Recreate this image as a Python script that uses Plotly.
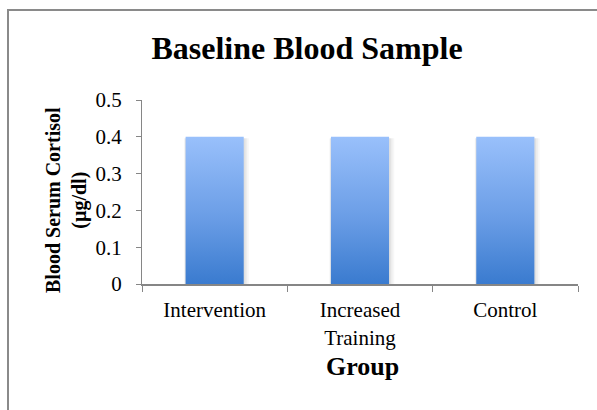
import plotly.graph_objects as go

# Chart data
groups = ["Intervention", "Increased<br>Training", "Control"]
cortisol = [0.4, 0.4, 0.4]
y_ticks = [0, 0.1, 0.2, 0.3, 0.4, 0.5]
y_tick_text = ["0", "0.1", "0.2", "0.3", "0.4", "0.5"]

BAR_WIDTH = 0.4
SERIF = "Liberation Serif, Times New Roman, serif"
AXIS_GREY = "#868686"

fig = go.Figure()

# each bar is a filled rectangle built from its category index and value,
# so that it can carry a vertical colour gradient
for i, v in enumerate(cortisol):
    x0, x1 = i - BAR_WIDTH / 2, i + BAR_WIDTH / 2
    # soft drop shadow
    for k, a in enumerate([0.05, 0.04, 0.03]):
        d = 0.012 * (k + 1)
        fig.add_trace(go.Scatter(
            x=[x0 - d * 0.3, x1 + d, x1 + d, x0 - d * 0.3, x0 - d * 0.3],
            y=[-0.012 * (k + 1), -0.012 * (k + 1), v - 0.004, v - 0.004, -0.012 * (k + 1)],
            mode="lines", line=dict(width=0), fill="toself",
            fillcolor=f"rgba(0,0,0,{a})", hoverinfo="skip", showlegend=False,
        ))
    fig.add_trace(go.Scatter(
        x=[x0, x1, x1, x0, x0],
        y=[0, 0, v, v, 0],
        mode="lines",
        line=dict(width=0),
        fill="toself",
        fillgradient=dict(
            type="vertical",
            colorscale=[[0, "#3A7BCF"], [0.45, "#6A9DE6"], [1, "#99C0FB"]],
        ),
        name=groups[i].replace("<br>", " "),
        hovertemplate="%{fullData.name}: " + str(v) + "<extra></extra>",
        showlegend=False,
    ))

fig.update_layout(
    width=597,
    height=410,
    margin=dict(l=142, r=19, t=100, b=126),
    paper_bgcolor="white",
    plot_bgcolor="white",
    font=dict(family=SERIF, color="black"),
    title=dict(
        text="<b>Baseline Blood Sample</b>",
        font=dict(family=SERIF, size=32, color="black"),
        x=307 / 597, xanchor="center",
        y=1 - 48 / 410, yanchor="middle", yref="container",
    ),
    xaxis=dict(
        range=[-0.5, 2.5],
        tickvals=list(range(len(groups))),
        ticktext=groups,
        ticks="",
        ticklabelstandoff=6,
        tickfont=dict(family=SERIF, size=21, color="black"),
        showline=True, linecolor=AXIS_GREY, linewidth=2,
        showgrid=False, zeroline=False,
        minor=dict(tickvals=[-0.5, 0.5, 1.5, 2.5], ticks="outside",
                   ticklen=6, tickcolor=AXIS_GREY, tickwidth=1),
        fixedrange=True,
    ),
    yaxis=dict(
        range=[0, 0.5],
        tickvals=y_ticks,
        ticktext=y_tick_text,
        ticks="outside", ticklen=5, tickcolor=AXIS_GREY, tickwidth=1,
        ticklabelstandoff=10,
        tickfont=dict(family=SERIF, size=21, color="black"),
        showline=True, linecolor=AXIS_GREY, linewidth=1,
        showgrid=False, zeroline=False,
        fixedrange=True,
    ),
    annotations=[
        dict(
            text="<b>Blood Serum Cortisol<br>(µg/dl)</b>",
            textangle=-90,
            xref="paper", yref="paper",
            x=(66 - 142) / 436, y=(284 - 200) / 184,
            xanchor="center", yanchor="middle",
            showarrow=False,
            font=dict(family=SERIF, size=20, color="black"),
        ),
        dict(
            text="<b>Group</b>",
            xref="paper", yref="paper",
            x=(362.5 - 142) / 436, y=(284 - 366) / 184,
            xanchor="center", yanchor="middle",
            showarrow=False,
            font=dict(family=SERIF, size=26, color="black"),
        ),
    ],
    shapes=[
        # chart-area border
        dict(type="rect", xref="paper", yref="paper",
             x0=(8 - 142) / 436, x1=(620 - 142) / 436,
             y0=(284 - 430) / 184, y1=(284 - 10) / 184,
             line=dict(color="#8a8a8a", width=2), fillcolor="rgba(0,0,0,0)",
             layer="below"),
    ],
)

fig.write_html("out.html")
